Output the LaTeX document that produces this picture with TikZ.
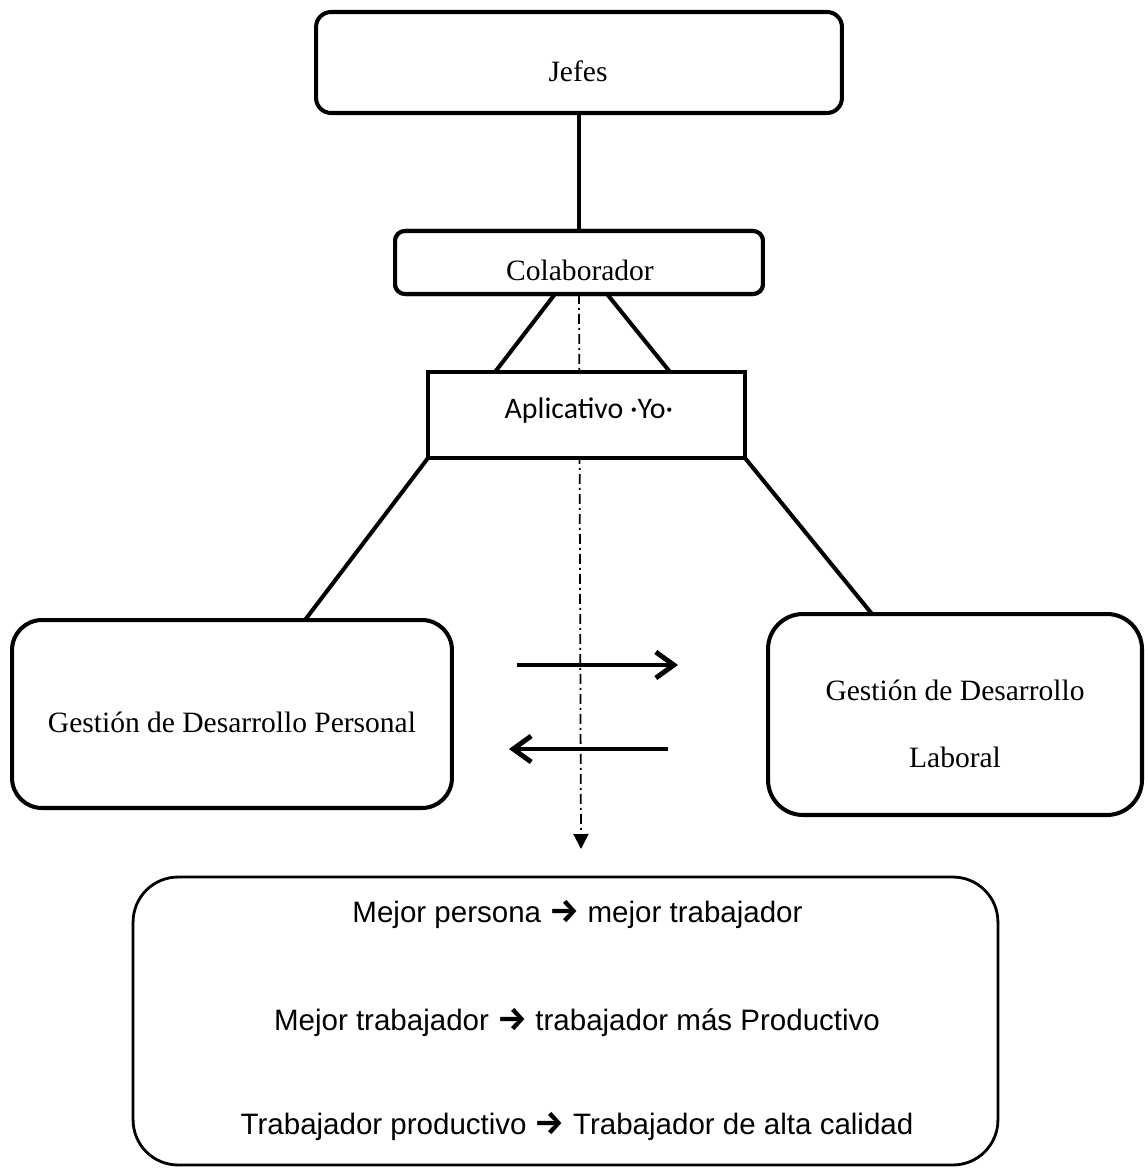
\documentclass[tikz,border=0pt]{standalone}
\usepackage{fontspec}
\setmainfont{Liberation Serif}
\newfontfamily\arialf{Liberation Sans}
\newfontfamily\carlitof{Carlito}
\newfontfamily\arrowf{Fira Sans}
\newcommand{\rarr}{{\arrowf\bfseries\fontsize{19}{20}\selectfont →}}
\usetikzlibrary{arrows.meta}
\begin{document}
\begin{tikzpicture}[x=0.02cm,y=-0.02cm,
  box/.style={draw,line width=2.3pt,fill=white,inner sep=0pt,outer sep=0pt},
  txt/.style={inner sep=0pt,anchor=base,font=\fontsize{16.8}{20}\selectfont},
  stxt/.style={txt,font=\fontsize{16.8}{20}\selectfont\arialf},
  ctxt/.style={txt,font=\fontsize{17}{20}\selectfont\carlitof},
  conn/.style={line width=2.3pt},
  harrow/.style={line width=2.8pt,-{Straight Barb[length=0.36cm,width=0.52cm,line width=2.8pt]}},
  flow/.style={line width=1pt,dash pattern=on 0.2cm off 0.08cm on 0.04cm off 0.08cm,-{Triangle[length=0.3cm,width=0.3cm]}}
]
\useasboundingbox (0,0) rectangle (1145,1169);
\fill[white] (0,0) rectangle (1145,1169);

% dash-dot flow (drawn first, boxes cover it)
\coordinate (flowend) at (581,849);
\node[box,rounded corners=0.2cm,minimum width=7.36cm,minimum height=1.26cm] (col) at (579,262.5) {};
\draw[flow] (col.south) -- (flowend);

% boxes
\node[box,rounded corners=0.3cm,minimum width=10.52cm,minimum height=2.02cm] (jefes) at (579,62.5) {};
\node[box,rounded corners=0.2cm,minimum width=7.36cm,minimum height=1.26cm] (col2) at (579,262.5) {};
\node[box,minimum width=6.34cm,minimum height=1.72cm] (apl) at (586.5,415) {};
\node[box,rounded corners=0.6cm,minimum width=8.8cm,minimum height=3.76cm] (gdp) at (232,714) {};
\node[box,rounded corners=0.7cm,minimum width=7.48cm,minimum height=4.02cm] (gdl) at (955,714.5) {};
\node[box,line width=1.6pt,rounded corners=0.9cm,minimum width=17.3cm,minimum height=5.76cm] (res) at (565.5,1021) {};

% connectors
\draw[conn] (jefes.south) -- (col2.north);
\draw[conn] ([xshift=-0.48cm]col2.south) -- ([xshift=-1.83cm]apl.north);
\draw[conn] ([xshift=0.56cm]col2.south) -- ([xshift=1.67cm]apl.north);
\draw[conn] (apl.south west) -- ([xshift=1.46cm]gdp.north);
\draw[conn] (apl.south east) -- ([xshift=-1.66cm]gdl.north);

% horizontal arrows
\coordinate (r1) at (517,665);
\coordinate (r2) at (678,665);
\coordinate (l1) at (668,749);
\coordinate (l2) at (509,749);
\draw[harrow] (r1) -- (r2);
\draw[harrow] (l1) -- (l2);

% texts
\node[txt] (tj) at (578,82) {Jefes};
\node[txt] (tc) at (580,280) {Colaborador};
\node[ctxt] (ta) at (589,418) {Aplicativo ·Yo·};
\node[txt] (tp) at (232,732) {Gestión de Desarrollo Personal};
\node[txt] (tl1) at (955,700) {Gestión de Desarrollo};
\node[txt] (tl2) at (955,767) {Laboral};
\node[stxt] (b1) at (577.5,922) {Mejor persona \rarr{} mejor trabajador};
\node[stxt] (b2) at (577,1030) {Mejor trabajador \rarr{} trabajador más Productivo};
\node[stxt] (b3) at (577,1134) {Trabajador productivo \rarr{} Trabajador de alta calidad};
\end{tikzpicture}
\end{document}
